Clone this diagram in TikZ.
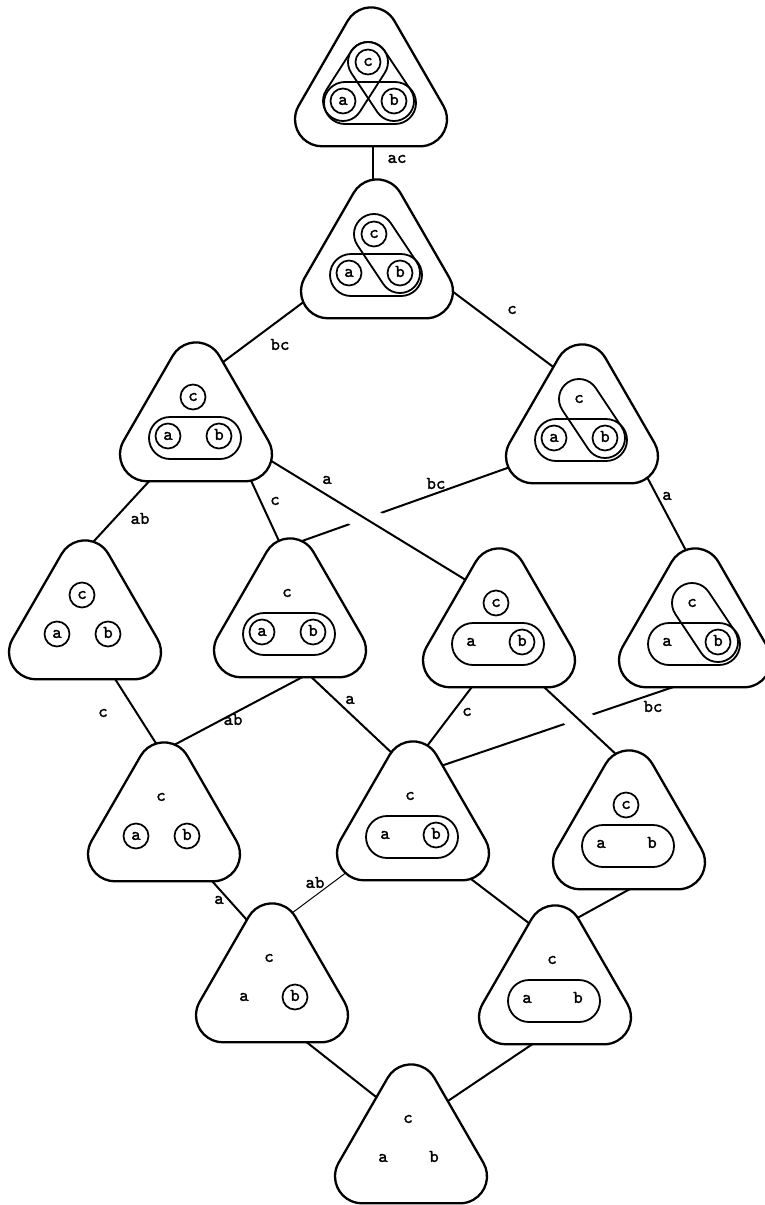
\documentclass[tikz,border=0pt]{standalone}
\usepackage{fontspec}
\newfontfamily\labelmono{lmmono10-regular.otf}[FakeBold=1.6]
% rounded triangle outline, drawn about the current origin
\newcommand\rtrishape{\draw[line width=1.15pt, fill=white] (-23.38,-70.1) arc[start angle=210,end angle=330,radius=27]
      -- (72.38,14.8) arc[start angle=330,end angle=450,radius=27]
      -- (-49,55.3) arc[start angle=90,end angle=210,radius=27] -- cycle;}
% hyperedge {a,b}
\newcommand\hstadium{\draw[hyper] (-47,-9) rectangle (45,33);}
% hyperedge {b,c}
\newcommand\capCB{\draw[loopline] (-19.64,-17.91) arc[start angle=146.31,end angle=326.31,radius=20]
      -- (39.64,-1.09) arc[start angle=-33.69,end angle=146.31,radius=20] -- cycle;}
% hyperedge {a,c}
\newcommand\capCA{\draw[loopline] (-19.84,-39.79) arc[start angle=212.66,end angle=392.66,radius=20]
      -- (-11.16,20.79) arc[start angle=32.66,end angle=212.66,radius=20] -- cycle;}
\begin{document}
\begin{tikzpicture}[x=0.5pt,y=0.5pt,yscale=-1,
  every node/.style={inner sep=0pt},
  txt/.style={font=\labelmono\fontsize{9}{10}\selectfont, text height=3.9pt, text depth=0pt},
  ring/.style={txt, circle, draw, line width=0.85pt, minimum size=12.5pt},
  plain/.style={txt},
  lbl/.style={txt},
  conn/.style={line width=1pt},
  thinconn/.style={line width=0.5pt},
  over/.style={conn, preaction={draw=white, line width=13pt}},
  hyper/.style={line width=0.9pt, rounded corners=10.5pt},
  loopline/.style={line width=0.9pt}
]
\fill[white] (0,0) rectangle (765,1205);
\useasboundingbox (0,0) rectangle (765,1205);
\clip (0,0) rectangle (765,1205);

% lattice positions
\coordinate (T)  at (371,91);
\coordinate (N2) at (377,263);
\coordinate (L1) at (196,426);
\coordinate (R1) at (582,428);
\coordinate (A)  at (85,624);
\coordinate (B)  at (290,622);
\coordinate (C)  at (499,632);
\coordinate (D)  at (695,632);
\coordinate (E)  at (164,826);
\coordinate (F)  at (413,825);
\coordinate (G)  at (629,834);
\coordinate (H)  at (272,987);
\coordinate (I)  at (555,989);
\coordinate (J)  at (411,1148);

% edges passing underneath
\draw[conn] ([shift={(-55,33)}]R1) -- ([shift={(-2,-76)}]B);
\draw[conn] ([shift={(-1,48)}]D) -- ([shift={(16,-55)}]F);
% edges passing over them
\draw[over] ([shift={(59,25)}]L1) -- ([shift={(-25,-47)}]C);
\draw[over] ([shift={(30,41)}]C) -- ([shift={(-10,-77)}]G);
% remaining edges
\draw[conn] ([shift={(2,38)}]T) -- ([shift={(-4,-71)}]N2);
\draw[conn] ([shift={(-60,29)}]N2) -- ([shift={(15,-55)}]L1);
\draw[conn] ([shift={(63,19)}]N2) -- ([shift={(-22,-56)}]R1);
\draw[conn] ([shift={(-31,38)}]L1) -- ([shift={(-2,-71)}]A);
\draw[conn] ([shift={(46,35)}]L1) -- ([shift={(-5,-68)}]B);
\draw[conn] ([shift={(56,32)}]R1) -- ([shift={(-4,-72)}]D);
\draw[conn] ([shift={(25,47)}]A) -- ([shift={(2,-67)}]E);
\draw[conn] ([shift={(22,50)}]B) -- ([shift={(-7,-72)}]E);
\draw[conn] ([shift={(17,51)}]B) -- ([shift={(-19,-70)}]F);
\draw[conn] ([shift={(-15,39)}]C) -- ([shift={(8,-71)}]F);
\draw[conn] ([shift={(39,45)}]E) -- ([shift={(-17,-58)}]H);
\draw[thinconn] ([shift={(-54,38)}]F) -- ([shift={(8,-65)}]H);
\draw[conn] ([shift={(37,38)}]F) -- ([shift={(-21,-62)}]I);
\draw[conn] ([shift={(21,44)}]G) -- ([shift={(15,-67)}]I);
\draw[conn] ([shift={(23,46)}]H) -- ([shift={(-26,-44)}]J);
\draw[conn] ([shift={(-12,48)}]I) -- ([shift={(25,-39)}]J);

% outlines
\foreach \n in {T,N2,L1,R1,A,B,C,D,E,F,G,H,I,J} {
  \begin{scope}[shift={(\n)}]\rtrishape\end{scope}
}

% contents
\begin{scope}[shift={(T)}]
  \hstadium \capCA \capCB
  \node[ring] (T-c) at (-3,-29) {c};
  \node[ring] (T-a) at (-28,10) {a};
  \node[ring] (T-b) at (23,10) {b};
\end{scope}
\begin{scope}[shift={(N2)}]
  \hstadium \capCB
  \node[ring] (N2-c) at (-3,-29) {c};
  \node[ring] (N2-a) at (-28,10) {a};
  \node[ring] (N2-b) at (23,10) {b};
\end{scope}
\begin{scope}[shift={(L1)}]
  \hstadium
  \node[ring] (L1-c) at (-3,-29) {c};
  \node[ring] (L1-a) at (-28,10) {a};
  \node[ring] (L1-b) at (23,10) {b};
\end{scope}
\begin{scope}[shift={(R1)}]
  \hstadium \capCB
  \node[plain] (R1-c) at (-3,-29) {c};
  \node[ring] (R1-a) at (-28,10) {a};
  \node[ring] (R1-b) at (23,10) {b};
\end{scope}
\begin{scope}[shift={(A)}]
  \node[ring] (A-c) at (-3,-29) {c};
  \node[ring] (A-a) at (-28,10) {a};
  \node[ring] (A-b) at (23,10) {b};
\end{scope}
\begin{scope}[shift={(B)}]
  \hstadium
  \node[plain] (B-c) at (-3,-29) {c};
  \node[ring] (B-a) at (-28,10) {a};
  \node[ring] (B-b) at (23,10) {b};
\end{scope}
\begin{scope}[shift={(C)}]
  \hstadium
  \node[ring] (C-c) at (-3,-29) {c};
  \node[plain] (C-a) at (-28,10) {a};
  \node[ring] (C-b) at (23,10) {b};
\end{scope}
\begin{scope}[shift={(D)}]
  \hstadium \capCB
  \node[plain] (D-c) at (-3,-29) {c};
  \node[plain] (D-a) at (-28,10) {a};
  \node[ring] (D-b) at (23,10) {b};
\end{scope}
\begin{scope}[shift={(E)}]
  \node[plain] (E-c) at (-3,-29) {c};
  \node[ring] (E-a) at (-28,10) {a};
  \node[ring] (E-b) at (23,10) {b};
\end{scope}
\begin{scope}[shift={(F)}]
  \hstadium
  \node[plain] (F-c) at (-3,-29) {c};
  \node[plain] (F-a) at (-28,10) {a};
  \node[ring] (F-b) at (23,10) {b};
\end{scope}
\begin{scope}[shift={(G)}]
  \hstadium
  \node[ring] (G-c) at (-3,-29) {c};
  \node[plain] (G-a) at (-28,10) {a};
  \node[plain] (G-b) at (23,10) {b};
\end{scope}
\begin{scope}[shift={(H)}]
  \node[plain] (H-c) at (-3,-29) {c};
  \node[plain] (H-a) at (-28,10) {a};
  \node[ring] (H-b) at (23,10) {b};
\end{scope}
\begin{scope}[shift={(I)}]
  \hstadium
  \node[plain] (I-c) at (-3,-29) {c};
  \node[plain] (I-a) at (-28,10) {a};
  \node[plain] (I-b) at (23,10) {b};
\end{scope}
\begin{scope}[shift={(J)}]
  \node[plain] (J-c) at (-3,-29) {c};
  \node[plain] (J-a) at (-28,10) {a};
  \node[plain] (J-b) at (23,10) {b};
\end{scope}

% edge labels
\node[lbl] (l-TN2) at (397,159) {ac};
\node[lbl] (l-N2L1) at (280,346) {bc};
\node[lbl] (l-N2R1) at (512,310) {c};
\node[lbl] (l-L1A) at (140,520) {ab};
\node[lbl] (l-L1B) at (275,501) {c};
\node[lbl] (l-L1C) at (327,480) {a};
\node[lbl] (l-R1B) at (436,485) {bc};
\node[lbl] (l-R1D) at (667,496) {a};
\node[lbl] (l-AE) at (103,713) {c};
\node[lbl] (l-BE) at (233,721) {ab};
\node[lbl] (l-BF) at (350,700) {a};
\node[lbl] (l-CF) at (467,712) {c};
\node[lbl] (l-DF) at (653,708) {bc};
\node[lbl] (l-EH) at (219,900) {a};
\node[lbl] (l-FH) at (315,884) {ab};
\end{tikzpicture}
\end{document}
